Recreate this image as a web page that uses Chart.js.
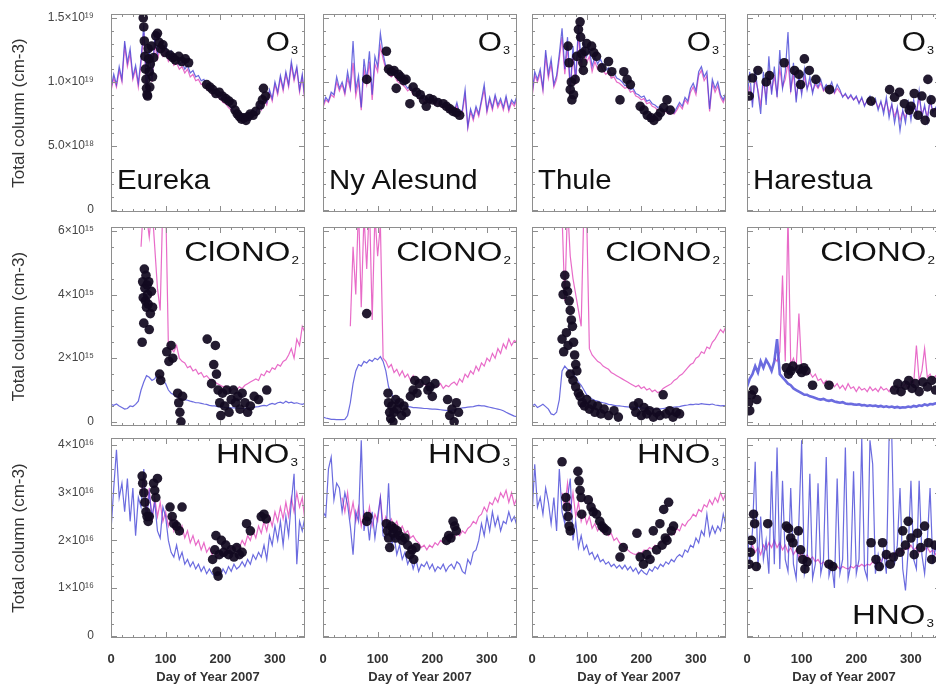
<!DOCTYPE html>
<html><head><meta charset="utf-8">
<script src="https://cdn.jsdelivr.net/npm/chart.js@4.4.1/dist/chart.umd.min.js"></script>
<style>
html,body{margin:0;padding:0;background:#fff;overflow:hidden;width:936px;height:685px;}
body{position:relative;font-family:"Liberation Sans",Arial,sans-serif;}
canvas{position:absolute;}
.lab{position:absolute;color:#111;line-height:1;white-space:nowrap;z-index:5;}
.lab .sb{font-size:11px;position:relative;top:3px;line-height:0;margin-left:1px;}
</style></head><body>
<script>
// ---------- axes / categories ----------
const days = [0,5,10,15,20,25,30,35,40,45,50,55,60,65,70,75,80,85,90,95,100,105,110,115,120,125,130,135,140,145,150,155,160,165,170,175,180,185,190,195,200,205,210,215,220,225,230,235,240,245,250,255,260,265,270,275,280,285,290,295,300,305,310,315,320,325,330,335,340,345,350,355,360,365];
const xTickValues = [0,100,200,300];
const xTickLabels = ['0','100','200','300'];
const o3TickValues = [0,5,10,15];
const o3TickLabels = ['0','5.0×10¹⁸','1.0×10¹⁹','1.5×10¹⁹'];
const clTickValues = [0,2,4,6];
const clTickLabels = ['0','2×10¹⁵','4×10¹⁵','6×10¹⁵'];
const hnTickValues = [0,1,2,3,4];
const hnTickLabels = ['0','1×10¹⁶','2×10¹⁶','3×10¹⁶','4×10¹⁶'];
const stations = ['Eureka','Ny Alesund','Thule','Harestua'];
const gasLabels = ['O<span class="sb">3</span>','ClONO<span class="sb">2</span>','HNO<span class="sb">3</span>'];
const yTitle = 'Total column (cm-3)';
const xTitle = 'Day of Year 2007';

// ---------- O3 (units 1e18 cm-2) ----------
const eurekaO3Blue = [9.5,10.6,9.8,11.2,10.2,13.2,11.5,12.6,10.4,11.3, 9.9,11.8,14.5,9.3,12.8,10.2,13.5,12.2,13.1,12.4, 12.9,12.0,12.4,11.6,11.9,11.3,11.6,11.0,11.3,10.7, 10.9,10.4,10.5,10.1,10.2,9.7,9.8,9.3,9.4,9.0, 8.9,8.6,8.5,8.2,8.0,7.7,7.5,7.3,7.4,7.2, 7.5,7.3,7.8,7.6,8.3,7.9,8.8,8.4,9.4,8.7, 10.0,9.2,10.5,9.5,10.8,9.8,11.6,10.3,11.2,9.4, 10.6,8.6,9.8,9.0];
const eurekaO3Pink = [9.3,10.3,9.6,10.9,10.0,12.8,11.2,12.2,10.2,11.0, 9.6,11.5,13.8,9.0,12.2,10.0,13.0,11.8,12.6,12.0, 12.4,11.6,12.0,11.3,11.5,11.0,11.2,10.7,11.0,10.4, 10.6,10.1,10.2,9.8,9.9,9.4,9.5,9.0,9.1,8.8, 8.7,8.4,8.3,8.0,7.8,7.6,7.4,7.2,7.3,7.1, 7.4,7.2,7.7,7.5,8.1,7.8,8.6,8.2,9.2,8.5, 9.8,9.0,10.3,9.3,10.6,9.6,11.3,10.1,11.0,9.2, 10.4,8.4,9.6,8.8];
const eurekaO3Obs = [[59,15.0],[60,14.3],[61,13.2],[62,12.0],[63,11.0],[64,10.2],[65,9.5],[66,9.0],[67,8.9],[68,12.6],[69,11.8],[70,10.8],[71,9.6],[72,11.4],[74,12.8],[76,10.4],[78,11.9],[82,13.6],[85,13.8],[88,13.1],[91,12.6],[95,12.9],[99,12.3],[108,12.1],[113,11.9],[118,11.7],[124,12.0],[130,11.6],[136,11.8],[142,11.5],[175,9.8],[181,9.6],[186,9.4],[192,9.1],[198,9.2],[204,8.9],[210,8.7],[216,8.5],[222,8.3],[227,7.8],[231,7.5],[235,7.3],[239,7.1],[243,7.2],[247,7.0],[251,7.3],[255,7.5],[260,7.4],[265,7.7],[273,8.2],[277,8.6],[279,9.5],[283,8.9]];

const nyO3Blue = [8.2,8.8,8.5,9.2,9.0,10.4,9.5,10.0,9.2,10.8, 9.6,13.2,9.4,10.5,8.0,11.8,10.2,12.4,9.0,12.0, 11.2,13.8,12.2,11.2,10.9,10.6,10.8,10.3,10.1,10.0, 9.8,9.5,9.7,9.2,9.3,8.9,9.0,8.6,8.8,8.5, 8.7,8.4,8.6,8.3,8.2,8.4,7.9,8.1,7.7,8.4, 7.5,7.8,9.4,6.5,7.9,7.2,8.1,7.5,8.6,9.8, 7.8,8.8,8.0,9.0,8.2,8.7,8.0,8.9,7.9,8.6, 8.3,8.9,8.1,8.6];
const nyO3Pink = [8.0,8.6,8.4,9.0,8.8,10.0,9.3,9.8,9.0,10.3, 9.4,11.5,8.9,10.0,7.8,11.0,9.8,11.6,8.6,11.4, 10.8,12.8,11.8,11.0,10.6,10.4,10.6,10.1,9.9,9.8, 9.6,9.3,9.5,9.0,9.1,8.7,8.8,8.4,8.6,8.3, 8.5,8.2,8.4,8.1,8.0,8.2,7.7,7.9,7.5,8.2, 7.3,7.6,9.0,6.4,7.7,7.0,7.9,7.3,8.4,9.4, 7.6,8.6,7.8,8.8,8.0,8.5,7.8,8.7,7.7,8.4, 8.1,8.7,7.9,8.4];
const nyO3Obs = [[80,10.2],[116,12.4],[120,11.0],[125,10.8],[130,10.9],[134,9.5],[138,10.6],[142,10.4],[148,10.1],[152,10.2],[159,8.3],[165,9.6],[171,9.2],[178,9.0],[184,8.6],[189,8.1],[195,8.7],[201,8.6],[210,8.4],[220,8.3],[226,8.1],[232,7.9],[238,7.7],[244,7.6],[250,7.4]];

const thuleO3Blue = [9.0,10.8,10.2,11.0,9.5,12.5,10.6,11.8,9.8,10.5, 12.2,14.2,11.0,13.5,9.5,12.8,10.2,14.5,11.5,13.2, 12.0,12.6,11.2,12.0,11.4,11.8,11.3,10.9,11.1,10.6, 10.7,10.3,10.2,10.0,9.7,9.8,9.4,9.5,9.1,9.0, 8.8,8.9,8.5,8.6,8.3,8.2,8.0,8.1,7.8,7.9, 7.6,7.8,7.6,8.0,8.4,8.1,8.8,8.5,9.5,9.9, 9.3,10.8,11.2,10.4,10.8,7.9,10.2,9.5,10.0,9.0, 8.6,9.2,8.4,9.0];
const thuleO3Pink = [8.8,10.5,10.0,10.7,9.3,12.0,10.3,11.4,9.6,10.2, 11.8,13.5,10.6,12.8,9.2,12.2,9.8,13.8,11.0,12.6, 11.5,12.0,10.8,11.6,11.0,11.4,10.9,10.6,10.8,10.3, 10.4,10.0,9.9,9.7,9.5,9.6,9.2,9.3,8.9,8.8, 8.6,8.7,8.3,8.4,8.1,8.0,7.8,7.9,7.6,7.7, 7.5,7.6,7.5,7.8,8.2,7.9,8.6,8.3,9.2,9.6, 9.0,10.5,10.9,10.1,10.5,7.7,9.9,9.2,9.7,8.8, 8.4,9.0,8.2,8.8];
const thuleO3Obs = [[66,12.8],[68,11.5],[70,9.4],[72,10.0],[73,8.6],[76,9.0],[79,10.2],[82,12.0],[85,14.1],[88,14.7],[89,13.5],[91,12.2],[93,11.5],[94,10.9],[97,12.4],[100,13.0],[109,12.8],[113,12.3],[118,12.0],[128,11.1],[140,11.6],[146,10.8],[161,8.6],[168,10.8],[174,10.2],[180,9.8],[198,8.1],[205,7.8],[211,7.4],[218,7.2],[223,7.0],[230,7.3],[235,7.6],[241,8.0],[247,8.6],[253,7.8]];

const harO3Blue = [8.6,10.8,8.0,11.0,9.2,7.5,10.8,8.2,12.0,9.0, 11.2,8.8,12.5,9.5,10.8,13.9,9.2,11.5,8.4,10.6, 9.0,11.0,9.4,10.4,9.1,10.1,9.6,10.2,9.4,9.8, 9.5,10.0,9.2,9.8,9.4,8.8,9.1,8.7,9.0,8.6, 8.9,8.3,8.8,8.1,8.6,8.9,8.2,8.7,7.8,8.5, 7.5,8.8,7.2,8.3,6.8,8.0,6.2,7.8,6.8,8.4, 7.0,8.6,7.4,9.3,7.2,8.2,6.9,8.8,7.6,8.0, 7.2,8.3,7.8,8.0];
const harO3Pink = [8.8,9.6,8.5,10.2,9.4,8.2,10.0,8.8,10.8,9.3, 10.4,9.0,11.0,9.6,10.2,11.5,9.3,10.6,8.8,10.2, 9.2,10.4,9.5,10.0,9.3,9.8,9.5,9.9,9.3,9.6, 9.4,9.7,9.1,9.5,9.2,8.9,9.0,8.7,8.9,8.6, 8.8,8.4,8.7,8.2,8.5,8.7,8.3,8.5,8.0,8.4, 7.8,8.5,7.6,8.2,7.3,7.9,7.0,7.7,7.2,8.1, 7.4,8.3,7.6,8.8,7.5,8.0,7.3,8.4,7.7,7.9, 7.4,8.1,7.7,7.9];
const harO3Obs = [[4,8.9],[10,10.3],[20,10.9],[35,10.0],[41,10.5],[68,11.5],[87,10.9],[95,10.6],[98,9.8],[105,11.8],[114,10.9],[126,10.2],[151,9.4],[227,8.5],[261,9.4],[270,8.8],[279,9.2],[288,8.3],[297,7.8],[300,8.1],[306,9.1],[313,7.4],[320,8.9],[326,7.0],[331,10.2],[337,8.6],[343,7.6]];

// ---------- ClONO2 (units 1e15 cm-2) ----------
const eurekaClBlue = [0.55,0.52,0.56,0.5,0.45,0.4,0.42,0.5,0.48,0.55, 0.65,1.0,1.25,1.45,1.4,1.3,1.35,1.5,1.45,1.3, 1.2,1.0,0.9,0.85,0.8,0.75,0.72,0.7,0.68,0.65, 0.63,0.6,0.6,0.58,0.56,0.55,0.52,0.5,0.5,0.48, 0.47,0.46,0.45,0.45,0.44,0.44,0.43,0.42,0.42,0.42, 0.43,0.44,0.45,0.47,0.48,0.5,0.52,0.5,0.55,0.58, 0.55,0.6,0.62,0.58,0.65,0.6,0.62,0.58,0.6,0.57, 0.55,0.58,0.55,0.56];
const eurekaClPink = [null,null,null,null,null,null,null,null,null,null, null,5.5,7.0,6.5,5.8,6.8,5.5,4.2,3.5,7.0, 7.0,2.4,2.3,2.2,2.4,2.0,1.9,1.85,1.7,1.75, 1.6,1.65,1.5,1.55,1.4,1.45,1.35,1.3,1.25,1.2, 1.15,1.1,1.12,1.05,1.0,1.05,1.0,1.1,1.05,1.15, 1.2,1.25,1.3,1.35,1.3,1.5,1.45,1.6,1.55,1.7, 1.65,1.8,1.75,1.9,1.95,2.1,2.3,2.0,2.6,2.4, 3.0,2.8,3.2,3.0];
const eurekaClObs = [[57,2.5],[58,4.4],[59,3.9],[60,3.1],[61,4.8],[62,4.2],[63,3.8],[64,4.6],[65,3.6],[66,4.3],[67,4.0],[68,3.7],[69,4.4],[70,2.9],[72,3.4],[74,4.1],[76,3.6],[89,1.5],[91,1.3],[102,2.2],[106,1.9],[110,2.4],[113,2.0],[122,0.9],[124,0.6],[126,0.3],[128,0.0],[131,0.8],[176,2.6],[184,1.2],[188,1.8],[191,2.4],[193,1.5],[196,1.0],[199,0.6],[201,0.2],[204,0.9],[208,0.5],[212,1.0],[216,0.3],[220,0.7],[224,1.0],[228,0.6],[232,0.8],[236,0.4],[240,0.9],[245,0.6],[250,0.3],[255,0.5],[262,0.8],[270,0.7],[285,1.0]];

const nyClBlue = [0.15,0.12,0.1,0.08,0.08,0.07,0.07,0.07,0.08,0.2, 0.6,1.2,1.6,1.8,1.75,1.9,1.85,1.95,1.9,2.0, 1.95,2.05,1.9,1.6,1.1,0.9,0.7,0.62,0.55,0.52, 0.5,0.48,0.47,0.45,0.45,0.44,0.43,0.42,0.42,0.41, 0.4,0.4,0.39,0.38,0.37,0.36,0.35,0.36,0.38,0.4, 0.42,0.44,0.45,0.46,0.47,0.48,0.5,0.52,0.5,0.5, 0.48,0.46,0.44,0.42,0.4,0.38,0.35,0.3,0.26,0.22, 0.18,0.16,0.15,0.15];
const nyClPink = [null,null,null,null,null,null,null,null,null,null, 3.0,5.5,4.0,6.8,3.6,6.5,4.8,6.9,3.2,6.5, 5.2,6.2,2.0,1.9,1.7,1.8,1.55,1.65,1.45,1.6, 1.4,1.5,1.3,1.45,1.25,1.3,1.15,1.2,1.1,1.2, 1.05,1.15,1.1,1.2,1.05,1.15,1.1,1.2,1.25,1.15, 1.35,1.25,1.5,1.4,1.6,1.5,1.75,1.6,1.85,1.75, 2.0,1.9,2.15,2.0,2.3,2.15,2.45,2.3,2.6,2.4, 2.55,2.5,2.6,2.5];
const nyClObs = [[80,3.4],[119,0.9],[120,0.6],[122,0.3],[124,0.1],[126,0.5],[128,0.0],[130,0.3],[133,0.7],[136,0.4],[140,0.6],[144,0.2],[148,0.5],[152,0.3],[160,0.8],[165,1.0],[168,1.3],[172,0.9],[176,1.2],[188,1.3],[192,1.0],[196,1.1],[200,0.8],[205,1.2],[228,0.7],[232,0.2],[236,0.4],[240,0.0],[244,0.6],[248,0.3]];

const thuleClBlue = [0.5,0.55,0.45,0.5,0.55,0.48,0.4,0.25,0.22,0.3, 0.7,1.6,1.75,1.65,1.6,1.5,1.4,1.25,1.15,1.0, 0.85,0.78,0.72,0.68,0.65,0.62,0.6,0.58,0.55,0.54, 0.52,0.5,0.5,0.49,0.48,0.47,0.46,0.46,0.45,0.45, 0.44,0.43,0.42,0.42,0.41,0.4,0.4,0.41,0.42,0.43, 0.44,0.45,0.46,0.47,0.48,0.5,0.52,0.53,0.55,0.54, 0.56,0.55,0.57,0.56,0.55,0.54,0.56,0.53,0.52,0.5, 0.51,0.5,0.5,0.5];
const thuleClPink = [null,null,null,null,null,null,null,null,null,null, null,6.5,3.8,6.8,5.2,4.5,4.0,3.5,3.0,6.8, 6.5,2.3,2.1,2.0,1.9,1.85,1.75,1.7,1.65,1.55, 1.5,1.45,1.4,1.35,1.3,1.25,1.2,1.15,1.1,1.15, 1.05,1.1,1.0,1.05,0.95,1.0,0.92,0.95,1.05,1.1, 1.15,1.2,1.3,1.35,1.45,1.5,1.6,1.7,1.8,1.85, 2.0,2.05,2.2,2.15,2.35,2.3,2.5,2.6,2.75,2.9, 2.8,3.0,2.9,3.0];
const thuleClObs = [[55,2.6],[57,4.0],[58,2.2],[60,4.6],[62,4.3],[63,2.8],[65,4.1],[66,2.4],[68,3.8],[70,3.5],[72,3.2],[74,3.0],[76,2.5],[78,2.1],[80,1.8],[82,1.6],[70,1.5],[75,1.3],[80,1.1],[85,0.9],[88,0.8],[92,0.6],[96,0.5],[100,0.7],[105,0.4],[110,0.55],[115,0.3],[120,0.5],[126,0.25],[132,0.4],[140,0.2],[150,0.35],[158,0.15],[186,0.5],[190,0.3],[195,0.6],[200,0.2],[205,0.45],[210,0.25],[215,0.35],[222,0.15],[228,0.3],[234,0.2],[240,0.85],[245,0.25],[252,0.35],[258,0.15],[264,0.3],[270,0.25]];

const harClBlue = [1.1,1.35,1.5,1.75,1.55,1.9,1.7,1.95,1.8,1.6, 1.9,2.6,1.5,1.4,1.3,1.2,1.15,1.05,1.0,0.95, 0.9,0.85,0.85,0.8,0.78,0.75,0.72,0.7,0.72,0.68, 0.66,0.68,0.64,0.62,0.6,0.62,0.58,0.56,0.57,0.55, 0.54,0.55,0.52,0.53,0.5,0.52,0.5,0.51,0.48,0.5, 0.47,0.49,0.46,0.48,0.45,0.47,0.44,0.46,0.45,0.48, 0.46,0.5,0.48,0.52,0.5,0.55,0.52,0.56,0.55,0.58, 0.55,0.6,0.57,0.6];
const harClPink = [null,null,null,null,null,null,null,null,null,null, 2.0,1.9,2.2,4.6,1.9,6.5,1.8,2.0,1.7,3.4, 1.6,1.7,1.5,1.55,1.4,1.5,1.3,1.35,1.2,1.3, 1.15,1.25,1.1,1.2,1.05,1.15,1.0,1.2,1.05,1.1, 0.95,1.1,1.0,1.05,0.95,1.1,0.98,1.05,0.95,1.1, 1.0,1.05,0.95,1.1,1.0,1.15,1.05,1.1,1.2,1.05, 1.3,1.2,2.4,1.3,1.6,2.3,1.4,1.5,1.3,1.45, 1.35,1.5,1.4,1.5];
const harClObs = [[3,0.6],[5,0.35],[8,0.85],[12,1.0],[18,0.7],[72,1.7],[76,1.5],[80,1.6],[84,1.75],[96,1.65],[100,1.55],[104,1.7],[108,1.6],[120,1.15],[150,1.15],[270,1.0],[276,1.2],[282,0.95],[290,1.15],[296,1.3],[302,1.05],[308,1.2],[315,0.95],[322,1.25],[330,1.1],[338,1.3],[345,1.0]];

// ---------- HNO3 (units 1e16 cm-2) ----------
const eurekaHnBlue = [2.2,3.1,3.9,2.9,3.2,2.6,3.3,2.4,3.1,2.1, 2.9,2.7,3.5,2.4,3.0,2.5,2.8,2.2,2.05,2.7, 2.5,2.0,1.75,1.65,1.9,1.6,1.75,1.5,1.6,1.45, 1.55,1.4,1.5,1.35,1.45,1.3,1.4,1.3,1.25,1.35, 1.25,1.4,1.3,1.45,1.35,1.5,1.4,1.45,1.55,1.45, 1.6,1.5,1.7,1.6,1.75,1.65,1.9,1.6,2.1,1.9, 2.3,2.0,2.4,1.9,2.5,2.1,2.8,3.4,1.5,2.4, 2.2,2.5,2.3,2.4];
const eurekaHnPink = [null,null,null,null,null,null,null,null,null,null, null,3.0,3.3,2.6,3.1,2.4,2.9,2.5,2.8,2.4, 2.6,2.3,2.5,2.2,2.4,2.15,2.3,2.05,2.2,1.95, 2.1,1.9,2.0,1.8,1.95,1.75,1.85,1.7,1.8,1.65, 1.75,1.7,1.8,1.75,1.85,1.8,1.9,1.85,2.0,1.9, 2.1,2.0,2.2,2.05,2.3,2.15,2.4,2.2,2.5,2.3, 2.6,2.4,2.7,2.45,2.8,2.5,2.9,2.6,3.0,2.7, 2.9,2.4,2.8,2.6];
const eurekaHnObs = [[57,3.35],[58,3.2],[60,3.0],[62,2.8],[64,2.6],[66,2.5],[68,2.4],[70,2.5],[78,3.2],[80,3.05],[82,2.9],[85,3.3],[108,2.7],[112,2.5],[115,2.35],[120,2.3],[125,2.2],[130,2.7],[186,1.6],[190,1.8],[192,2.1],[194,1.35],[196,1.25],[198,1.7],[202,2.0],[206,1.75],[210,1.9],[215,1.7],[220,1.8],[225,1.65],[230,1.85],[235,1.7],[240,1.75],[248,2.35],[255,2.2],[275,2.5],[280,2.55],[284,2.45]];

const nyHnBlue = [2.6,2.5,3.5,3.75,2.85,3.2,3.1,2.6,3.0,2.75, 2.3,1.7,2.6,2.4,4.1,2.2,2.55,2.0,2.6,2.05, 2.5,2.9,2.1,2.05,3.2,1.85,2.1,1.7,1.9,1.6, 1.75,1.5,1.65,1.4,1.6,1.35,1.5,1.45,1.55,1.4, 1.5,1.35,1.45,1.4,1.5,1.35,1.45,1.5,1.4,1.55, 1.5,1.35,1.3,1.6,1.5,1.75,1.8,2.0,2.35,2.1, 2.5,2.2,2.6,2.3,2.5,2.2,2.4,2.35,2.6,2.4, 2.5,2.3,2.6,2.4];
const nyHnPink = [null,null,null,null,null,null,null,2.9,2.6,3.0, 2.5,2.8,2.4,2.7,2.3,2.6,2.35,2.7,2.3,2.55, 2.4,2.9,2.3,2.5,2.35,2.45,2.3,2.4,2.2,2.3, 2.15,2.2,2.05,2.1,2.0,1.95,1.85,1.9,1.8,1.9, 1.85,1.95,1.9,2.0,1.95,2.05,2.0,2.1,2.05,2.15, 2.1,2.2,2.15,2.25,2.3,2.4,2.35,2.5,2.55,2.7, 2.6,2.8,2.75,2.9,2.8,3.0,2.9,3.05,2.8,3.0, 2.75,2.9,2.7,2.8];
const nyHnObs = [[80,2.4],[82,2.5],[116,2.35],[118,2.2],[120,2.05],[122,1.85],[125,2.3],[128,2.15],[130,2.25],[133,2.05],[136,2.2],[140,2.1],[145,2.0],[150,2.05],[155,1.9],[159,1.7],[163,1.8],[166,1.6],[170,1.85],[226,2.0],[230,2.1],[234,2.05],[238,2.4],[241,2.3],[244,2.2]];

const thuleHnBlue = [2.5,3.6,2.7,2.9,2.55,3.1,2.8,2.35,2.9,2.2, 3.5,2.6,2.35,2.9,3.3,2.0,2.4,1.85,2.1,1.8, 1.9,1.7,1.75,1.6,1.7,1.55,1.6,1.5,1.55,1.45, 1.5,1.42,1.48,1.4,1.48,1.38,1.45,1.35,1.42,1.3, 1.38,1.32,1.28,1.4,1.35,1.45,1.4,1.5,1.45,1.55, 1.5,1.6,1.55,1.65,1.7,1.65,1.8,1.75,1.9,1.85, 2.05,1.95,2.2,2.1,2.55,2.1,2.3,2.15,2.3,2.2, 2.55,2.3,2.4,2.35];
const thuleHnPink = [null,null,null,null,null,null,null,null,null,null, null,3.0,2.7,3.2,2.6,3.0,2.5,2.8,2.4,2.6, 2.35,2.5,2.25,2.35,2.2,2.3,2.15,2.2,2.1,2.15, 2.0,2.05,1.95,1.9,1.85,1.8,1.75,1.72,1.7,1.75, 1.72,1.8,1.78,1.85,1.82,1.9,1.88,1.95,2.0,2.05, 2.1,2.15,2.12,2.25,2.2,2.35,2.3,2.4,2.45,2.55, 2.5,2.65,2.6,2.75,2.7,2.85,2.75,2.9,2.8,3.0, 2.85,3.0,2.9,3.0];
const thuleHnObs = [[55,3.65],[62,2.9],[64,2.7],[66,2.5],[68,2.3],[70,2.2],[84,3.45],[86,3.25],[88,3.05],[90,2.9],[91,2.55],[103,2.85],[108,2.7],[112,2.6],[118,2.55],[124,2.4],[128,2.3],[132,2.25],[137,2.2],[161,1.65],[167,1.85],[192,2.15],[198,1.65],[204,1.5],[210,1.7],[216,1.6],[222,2.2],[228,1.8],[234,2.35],[238,1.9],[241,2.65],[244,2.05],[247,2.0],[250,2.8],[255,2.2],[259,2.3]];

const harHnBlue = [2.3,1.5,2.2,3.65,1.4,2.5,1.6,2.0,1.3,3.45, 1.5,3.95,1.4,3.25,1.6,1.35,3.1,1.5,1.2,2.4, 4.1,1.3,1.6,3.4,1.2,1.5,3.2,1.3,1.6,3.75, 1.25,1.5,1.0,3.3,1.3,1.6,3.95,1.2,1.5,3.45, 1.3,1.6,4.15,1.4,1.2,4.1,3.6,1.3,1.7,1.4, 1.8,1.3,4.15,4.15,1.5,1.9,3.1,1.4,0.95,1.8, 3.25,1.6,1.4,3.25,1.7,1.3,2.0,3.1,1.5,1.9, 1.4,2.2,1.6,2.0];
const harHnPink = [1.8,1.7,1.9,1.75,1.85,1.7,1.9,1.8,1.95,1.85, 2.0,1.85,1.95,1.8,1.9,1.75,1.85,1.7,1.8,1.65, 1.75,1.6,1.7,1.6,1.65,1.55,1.6,1.5,1.55,1.45, 1.5,1.45,1.42,1.45,1.4,1.45,1.42,1.4,1.45,1.42, 1.48,1.45,1.5,1.45,1.5,1.48,1.55,1.5,1.6,1.55, 1.65,1.6,1.7,1.65,1.75,1.7,1.8,1.75,1.85,1.8, 1.9,1.8,1.85,1.75,1.9,1.8,1.85,1.75,1.8,1.7, 1.8,1.75,1.8,1.75];
const harHnObs = [[4,1.5],[6,1.75],[8,2.0],[12,2.55],[14,2.35],[17,1.45],[38,2.35],[72,2.3],[76,2.25],[80,2.05],[84,1.95],[94,2.2],[98,1.8],[102,1.6],[106,1.4],[110,1.55],[150,1.5],[157,1.45],[227,1.95],[236,1.6],[242,1.45],[248,1.95],[255,1.7],[262,1.5],[268,1.65],[280,1.75],[285,2.2],[290,1.9],[295,2.4],[300,2.05],[306,1.7],[312,2.15],[318,1.85],[325,2.3],[332,1.95],[338,1.6],[344,1.9]];

// ---------- layout ----------
const colLeft = [111, 323, 532, 747];
const PW = 194;
const rowCfg = [
  {top:14,  h:198, min:-0.16, max:15.31, ticks:o3TickValues, labels:o3TickLabels, yMinor:1,    yMajor:5},
  {top:227, h:199, min:-0.13, max:6.12,  ticks:clTickValues, labels:clTickLabels, yMinor:0.5,  yMajor:2},
  {top:438, h:200, min:-0.05, max:4.15,  ticks:hnTickValues, labels:hnTickLabels, yMinor:0.25, yMajor:1}
];
const panels = [
  {row:0,col:0,blue:eurekaO3Blue,pink:eurekaO3Pink,obs:eurekaO3Obs},
  {row:0,col:1,blue:nyO3Blue,pink:nyO3Pink,obs:nyO3Obs},
  {row:0,col:2,blue:thuleO3Blue,pink:thuleO3Pink,obs:thuleO3Obs},
  {row:0,col:3,blue:harO3Blue,pink:harO3Pink,obs:harO3Obs},
  {row:1,col:0,blue:eurekaClBlue,pink:eurekaClPink,obs:eurekaClObs},
  {row:1,col:1,blue:nyClBlue,pink:nyClPink,obs:nyClObs},
  {row:1,col:2,blue:thuleClBlue,pink:thuleClPink,obs:thuleClObs},
  {row:1,col:3,blue:harClBlue,pink:harClPink,obs:harClObs,blueW:2.6},
  {row:2,col:0,blue:eurekaHnBlue,pink:eurekaHnPink,obs:eurekaHnObs},
  {row:2,col:1,blue:nyHnBlue,pink:nyHnPink,obs:nyHnObs},
  {row:2,col:2,blue:thuleHnBlue,pink:thuleHnPink,obs:thuleHnObs},
  {row:2,col:3,blue:harHnBlue,pink:harHnPink,obs:harHnObs}
];

Chart.defaults.font.family = '"Liberation Sans", Arial, sans-serif';
Chart.defaults.color = '#333';

const framePlugin = {
  id:'frame',
  afterDraw(chart, args, o){
    const ctx = chart.ctx, a = chart.chartArea, xs = chart.scales.x, ys = chart.scales.y;
    ctx.save();
    ctx.strokeStyle = '#8e8e8e'; ctx.lineWidth = 1;
    ctx.strokeRect(Math.round(a.left)+0.5, Math.round(a.top)+0.5, Math.round(a.width)-1, Math.round(a.height)-1);
    ctx.beginPath();
    for (let d = 0; d <= xs.max; d += 20) {
      const p = Math.round(xs.getPixelForValue(d)) + 0.5;
      const L = (d % 100 === 0) ? 6 : 3;
      ctx.moveTo(p, a.bottom); ctx.lineTo(p, a.bottom - L);
      ctx.moveTo(p, a.top); ctx.lineTo(p, a.top + L);
    }
    for (let k = Math.ceil(ys.min / o.yMinor); k * o.yMinor <= ys.max; k++) {
      const v = k * o.yMinor;
      const p = Math.round(ys.getPixelForValue(v)) + 0.5;
      const q = v / o.yMajor;
      const L = Math.abs(q - Math.round(q)) < 1e-6 ? 6 : 3;
      ctx.moveTo(a.left, p); ctx.lineTo(a.left + L, p);
      ctx.moveTo(a.right, p); ctx.lineTo(a.right - L, p);
    }
    ctx.stroke();
    ctx.restore();
  }
};

function linePts(vals){ return vals.map((v,i) => ({x: days[i], y: v})); }
function obsPts(list){ return list.map(p => ({x: p[0], y: p[1]})); }
function zeroPad(s){ s.paddingTop = 0; s.paddingBottom = 0; s.paddingLeft = 0; s.paddingRight = 0; }

function makePanel(p){
  const r = rowCfg[p.row];
  const c = p.col;
  const first = c === 0, bottom = p.row === 2;
  const cvLeft = first ? 0 : colLeft[c] - 4;
  const cvTop = r.top - 4;
  const cvW = (colLeft[c] - cvLeft) + PW + 4;
  const cvH = bottom ? 685 - cvTop : r.h + 8;
  const xAxisH = bottom ? cvH - 4 - r.h : 0;
  const cv = document.createElement('canvas');
  cv.width = cvW; cv.height = cvH;
  cv.style.left = cvLeft + 'px'; cv.style.top = cvTop + 'px';
  cv.style.width = cvW + 'px'; cv.style.height = cvH + 'px';
  document.body.appendChild(cv);
  new Chart(cv, {
    type: 'scatter',
    data: { datasets: [
      { label:'FTIR', data: obsPts(p.obs), pointRadius: 4.8, pointHoverRadius: 4.8, pointBackgroundColor:'rgba(18,10,32,0.93)', pointBorderWidth:0, showLine:false },
      { label:'model A', data: linePts(p.blue), showLine:true, pointRadius:0, borderColor:'rgba(70,70,215,0.8)', borderWidth: p.blueW || 1.2, spanGaps:false },
      { label:'model B', data: linePts(p.pink), showLine:true, pointRadius:0, borderColor:'rgba(226,70,186,0.8)', borderWidth:1.2, spanGaps:false }
    ]},
    options: {
      responsive:false, animation:false, devicePixelRatio:1,
      events: [],
      layout: { autoPadding:false, padding: { left: first ? 0 : 4, right: 4, top: 4, bottom: bottom ? 0 : 4 } },
      plugins: { legend:{display:false}, tooltip:{enabled:false}, frame:{ yMinor:r.yMinor, yMajor:r.yMajor } },
      scales: {
        x: {
          type:'linear', min:0, max:355, display: bottom,
          grid:{display:false}, border:{display:false},
          afterBuildTicks: s => { s.ticks = xTickValues.map(v => ({value:v})); },
          afterFit: s => { s.height = xAxisH; zeroPad(s); },
          ticks:{ autoSkip:false, maxRotation:0, padding:6, color:'#333', font:{size:13, weight:'bold'},
                  callback: v => xTickLabels[xTickValues.indexOf(v)] },
          title:{ display:true, text:xTitle, color:'#333', font:{size:13, weight:'bold'}, padding:{top:0,bottom:0} }
        },
        y: {
          type:'linear', min:r.min, max:r.max, display:first,
          grid:{display:false}, border:{display:false},
          afterBuildTicks: s => { s.ticks = r.ticks.map(v => ({value:v})); },
          afterFit: s => { s.width = first ? 111 : 0; zeroPad(s); },
          ticks:{ autoSkip:false, padding:9, color:'#444', font:{size:12},
                  callback: v => r.labels[r.ticks.indexOf(v)] },
          title:{ display:true, text:yTitle, color:'#333', font:{size:17}, padding:{top:9,bottom:0} }
        }
      }
    },
    plugins:[framePlugin]
  });
}
panels.forEach(makePanel);

// ---------- panel annotations (real HTML text) ----------
function addLabel(html, x, baseline, size, align, sx){
  const d = document.createElement('div');
  d.className = 'lab';
  d.innerHTML = html;
  d.style.fontSize = size + 'px';
  d.style.top = (baseline - 0.8465 * size) + 'px';
  if (align === 'right') {
    d.style.left = (x - 600) + 'px'; d.style.width = '600px'; d.style.textAlign = 'right';
    d.style.transformOrigin = 'right center';
  } else {
    d.style.left = x + 'px'; d.style.transformOrigin = 'left center';
  }
  d.style.transform = 'scaleX(' + sx + ')';
  document.body.appendChild(d);
}
for (let c = 0; c < 4; c++) {
  const right = colLeft[c] + PW - 7;
  addLabel(gasLabels[0], right, 52, 27, 'right', 1.15);
  addLabel(stations[c], colLeft[c] + 6, 190, 28, 'left', 1.05);
  addLabel(gasLabels[1], right + 1, 262, 27, 'right', 1.22);
  if (c < 3) addLabel(gasLabels[2], right, 464, 27, 'right', 1.22);
  else addLabel(gasLabels[2], right, 625, 27, 'right', 1.22);
}
</script>
</body></html>
